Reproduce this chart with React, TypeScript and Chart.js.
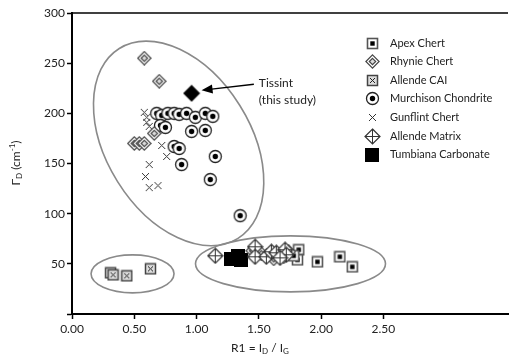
import React, { useEffect, useRef } from 'react';
import { Chart, registerables } from 'chart.js';
Chart.register(...registerables);

// ---- data (R1 = ID/IG, ΓD in cm-1) ----
const apexChert = [
  { x: 1.82, y: 64 }, { x: 1.81, y: 54 }, { x: 1.97, y: 52 },
  { x: 2.15, y: 57 }, { x: 2.25, y: 47 }, { x: 1.78, y: 58 },
];
const rhynieChert = [
  { x: 0.58, y: 255 }, { x: 0.70, y: 232 }, { x: 0.50, y: 170 }, { x: 0.54, y: 170 },
  { x: 0.58, y: 170 }, { x: 0.66, y: 180 }, { x: 1.45, y: 63 }, { x: 1.52, y: 60 },
  { x: 1.62, y: 55 }, { x: 1.70, y: 57 }, { x: 1.74, y: 62 },
];
const allendeCAI = [
  { x: 0.31, y: 41 }, { x: 0.33, y: 39 }, { x: 0.44, y: 38 }, { x: 0.63, y: 45 },
];
const murchison = [
  { x: 0.68, y: 200 }, { x: 0.72, y: 198 }, { x: 0.77, y: 200 }, { x: 0.82, y: 200 },
  { x: 0.86, y: 199 }, { x: 0.92, y: 200 }, { x: 0.99, y: 196 }, { x: 1.07, y: 200 },
  { x: 1.13, y: 197 }, { x: 0.71, y: 188 }, { x: 0.75, y: 186 }, { x: 0.96, y: 182 },
  { x: 1.07, y: 183 }, { x: 0.82, y: 167 }, { x: 0.86, y: 165 }, { x: 0.88, y: 149 },
  { x: 1.15, y: 157 }, { x: 1.11, y: 134 }, { x: 1.35, y: 98 },
];
const gunflint = [
  { x: 0.58, y: 201 }, { x: 0.60, y: 196 }, { x: 0.60, y: 191 }, { x: 0.62, y: 187 },
  { x: 0.72, y: 168 }, { x: 0.76, y: 157 }, { x: 0.62, y: 149 }, { x: 0.59, y: 137 },
  { x: 0.62, y: 126 }, { x: 0.69, y: 128 },
];
const allendeMatrix = [
  { x: 1.15, y: 58 }, { x: 1.47, y: 67 }, { x: 1.47, y: 57 }, { x: 1.56, y: 57 },
  { x: 1.60, y: 62 }, { x: 1.64, y: 61 }, { x: 1.71, y: 64 }, { x: 1.72, y: 59 },
  { x: 1.67, y: 56 },
];
const tumbiana = [
  { x: 1.28, y: 55 }, { x: 1.33, y: 58 }, { x: 1.36, y: 54 },
];
const tissint = [{ x: 0.96, y: 220 }];

const seriesLabels = [
  'Apex Chert', 'Rhynie Chert', 'Allende CAI', 'Murchison Chondrite',
  'Gunflint Chert', 'Allende Matrix', 'Tumbiana Carbonate',
];
const xTickMax = 2.5;

// group ellipses: centre in data units, semi-axes in px, angle in degrees
const groupEllipses = [
  { cx: 0.856, cy: 170, a: 112, b: 72, angle: 58 },
  { cx: 0.486, cy: 40, a: 41.5, b: 19, angle: 0 },
  { cx: 1.754, cy: 50, a: 95, b: 28, angle: 0 },
];
const annotation = { tipX: 1.04, tipY: 223, tailX: 1.46, tailY: 229, textX: 1.50, textY: 230 };

const FONT = 'Lato, "Open Sans", sans-serif';

function mk(w: number, draw: (g: CanvasRenderingContext2D, c: number) => void) {
  const cv = document.createElement('canvas');
  cv.width = w; cv.height = w;
  const g = cv.getContext('2d')!;
  draw(g, w / 2);
  return cv;
}
function diamond(g: CanvasRenderingContext2D, c: number, h: number) {
  g.beginPath();
  g.moveTo(c, c - h); g.lineTo(c + h, c); g.lineTo(c, c + h); g.lineTo(c - h, c); g.closePath();
}

function makeMarkers() {
  const apex = mk(13, (g, c) => {
    g.fillStyle = '#fff'; g.fillRect(1.5, 1.5, 10, 10);
    g.strokeStyle = '#555'; g.lineWidth = 1.6; g.strokeRect(1.5, 1.5, 10, 10);
    g.fillStyle = '#000'; g.fillRect(c - 2.2, c - 2.2, 4.4, 4.4);
  });
  const rhynie = mk(15, (g, c) => {
    diamond(g, c, 6.6); g.fillStyle = '#fff'; g.fill();
    g.strokeStyle = '#444'; g.lineWidth = 1.2; g.stroke();
    diamond(g, c, 3.2); g.fillStyle = '#ddd'; g.fill(); g.stroke();
  });
  const cai = mk(13, (g, c) => {
    g.fillStyle = '#ddd'; g.fillRect(1.5, 1.5, 10, 10);
    g.strokeStyle = '#444'; g.lineWidth = 1.5; g.strokeRect(1.5, 1.5, 10, 10);
    g.strokeStyle = '#222'; g.lineWidth = 1; g.beginPath();
    g.moveTo(4, 4); g.lineTo(9, 9); g.moveTo(9, 4); g.lineTo(4, 9); g.stroke();
  });
  const murch = mk(15, (g, c) => {
    g.beginPath(); g.arc(c, c, 6, 0, Math.PI * 2); g.fillStyle = '#fff'; g.fill();
    g.strokeStyle = '#222'; g.lineWidth = 1.3; g.stroke();
    g.beginPath(); g.arc(c, c, 2.7, 0, Math.PI * 2); g.fillStyle = '#000'; g.fill();
  });
  const gun = mk(9, (g) => {
    g.strokeStyle = '#333'; g.lineWidth = 1; g.beginPath();
    g.moveTo(1, 1); g.lineTo(8, 8); g.moveTo(8, 1); g.lineTo(1, 8); g.stroke();
  });
  const matrix = mk(17, (g, c) => {
    diamond(g, c, 7.5); g.fillStyle = '#fff'; g.fill();
    g.strokeStyle = '#333'; g.lineWidth = 1.2; g.stroke();
    g.beginPath(); g.moveTo(c - 7.5, c); g.lineTo(c + 7.5, c); g.moveTo(c, c - 7.5); g.lineTo(c, c + 7.5);
    g.lineWidth = 1; g.stroke();
  });
  const tumb = mk(14, (g) => { g.fillStyle = '#000'; g.fillRect(0, 0, 14, 14); });
  const tiss = mk(18, (g, c) => { diamond(g, c, 8.5); g.fillStyle = '#000'; g.fill(); });
  return { apex, rhynie, cai, murch, gun, matrix, tumb, tiss };
}

function drawRich(ctx: CanvasRenderingContext2D, parts: { t: string; k?: 'sub' | 'sup' }[], cx: number, cy: number, size: number) {
  const base = `${size}px ${FONT}`;
  const small = `${Math.round(size * 0.65)}px ${FONT}`;
  let total = 0;
  const widths = parts.map(p => { ctx.font = p.k ? small : base; const w = ctx.measureText(p.t).width; total += w; return w; });
  let x = cx - total / 2;
  ctx.textBaseline = 'middle';
  ctx.textAlign = 'left';
  parts.forEach((p, i) => {
    ctx.font = p.k ? small : base;
    const dy = p.k === 'sub' ? size * 0.3 : p.k === 'sup' ? -size * 0.3 : 0;
    ctx.fillText(p.t, x, cy + dy);
    x += widths[i];
  });
}

const decorPlugin = (markers: any[]) => ({
  id: 'decor',
  beforeDatasetsDraw(chart: any) {
    const { ctx, scales } = chart;
    ctx.save();
    ctx.strokeStyle = '#8a8a8a';
    ctx.lineWidth = 1.6;
    groupEllipses.forEach(e => {
      ctx.beginPath();
      ctx.ellipse(scales.x.getPixelForValue(e.cx), scales.y.getPixelForValue(e.cy), e.a, e.b, (e.angle * Math.PI) / 180, 0, Math.PI * 2);
      ctx.stroke();
    });
    ctx.restore();
  },
  afterDraw(chart: any) {
    const { ctx, scales, chartArea } = chart;
    ctx.save();
    // top border
    ctx.strokeStyle = '#000'; ctx.lineWidth = 1.5;
    ctx.beginPath(); ctx.moveTo(chartArea.left, chartArea.top); ctx.lineTo(chartArea.right, chartArea.top); ctx.stroke();
    ctx.fillStyle = '#222';
    // x title
    drawRich(ctx, [{ t: 'R1 = I' }, { t: 'D', k: 'sub' }, { t: ' / I' }, { t: 'G', k: 'sub' }], 260, 348, 12);
    // y title
    ctx.save();
    ctx.translate(16, 163); ctx.rotate(-Math.PI / 2);
    drawRich(ctx, [{ t: 'Γ' }, { t: 'D', k: 'sub' }, { t: ' (cm' }, { t: '-1', k: 'sup' }, { t: ')' }], 0, 0, 12);
    ctx.restore();
    // legend
    const lx = 372, ly0 = 43, step = 18.6;
    ctx.font = `11px ${FONT}`; ctx.textAlign = 'left'; ctx.textBaseline = 'middle'; ctx.fillStyle = '#222';
    seriesLabels.forEach((lab, i) => {
      const m = markers[i];
      const y = ly0 + i * step;
      ctx.drawImage(m, Math.round(lx - m.width / 2), Math.round(y - m.height / 2));
      ctx.fillText(lab, 390, y);
    });
    // annotation arrow
    const tx = scales.x.getPixelForValue(annotation.tipX), ty = scales.y.getPixelForValue(annotation.tipY);
    const sx = scales.x.getPixelForValue(annotation.tailX), sy = scales.y.getPixelForValue(annotation.tailY);
    const ang = Math.atan2(ty - sy, tx - sx);
    ctx.strokeStyle = '#000'; ctx.lineWidth = 1.3;
    ctx.beginPath(); ctx.moveTo(sx, sy); ctx.lineTo(tx - 8 * Math.cos(ang), ty - 8 * Math.sin(ang)); ctx.stroke();
    ctx.beginPath();
    ctx.moveTo(tx, ty);
    ctx.lineTo(tx - 11 * Math.cos(ang) + 4.5 * Math.sin(ang), ty - 11 * Math.sin(ang) - 4.5 * Math.cos(ang));
    ctx.lineTo(tx - 11 * Math.cos(ang) - 4.5 * Math.sin(ang), ty - 11 * Math.sin(ang) + 4.5 * Math.cos(ang));
    ctx.closePath(); ctx.fillStyle = '#000'; ctx.fill();
    const px = scales.x.getPixelForValue(annotation.textX), py = scales.y.getPixelForValue(annotation.textY);
    ctx.font = `12px ${FONT}`; ctx.fillStyle = '#222'; ctx.textBaseline = 'middle';
    ctx.fillText('Tissint', px, py);
    ctx.fillText('(this study)', px, py + 17);
    ctx.restore();
  },
});

export default function App() {
  const ref = useRef<HTMLCanvasElement>(null);
  useEffect(() => {
    const m = makeMarkers();
    const legendMarkers = [m.apex, m.rhynie, m.cai, m.murch, m.gun, m.matrix, m.tumb];
    const mkDs = (label: string, data: any[], style: any, order: number) => ({
      label, data, pointStyle: style, pointRadius: 6, showLine: false, order,
    });
    const chart = new Chart(ref.current!, {
      type: 'scatter',
      data: {
        datasets: [
          mkDs('Tissint', tissint, m.tiss, 0),
          mkDs(seriesLabels[5], allendeMatrix, m.matrix, 1),
          mkDs(seriesLabels[1], rhynieChert, m.rhynie, 2),
          mkDs(seriesLabels[0], apexChert, m.apex, 3),
          mkDs(seriesLabels[6], tumbiana, m.tumb, 4),
          mkDs(seriesLabels[2], allendeCAI, m.cai, 5),
          mkDs(seriesLabels[3], murchison, m.murch, 6),
          mkDs(seriesLabels[4], gunflint, m.gun, 7),
        ] as any,
      },
      options: {
        animation: false,
        responsive: false,
        layout: { padding: { top: 13, right: 0, left: 0, bottom: 0 } },
        plugins: { legend: { display: false }, tooltip: { enabled: false } },
        scales: {
          x: {
            type: 'linear', min: 0, max: 3.5,
            afterFit: (s: any) => { s.height = 48; },
            ticks: {
              stepSize: 0.5, color: '#222', padding: 3,
              font: { size: 12, family: FONT },
              callback: (v: any) => (Number(v) <= xTickMax + 1e-9 ? Number(v).toFixed(2) : ''),
            },
            grid: {
              drawOnChartArea: false, tickLength: 5, tickWidth: 1.5,
              tickColor: (c: any) => (c.tick && c.tick.value > xTickMax + 1e-9 ? 'rgba(0,0,0,0)' : '#000'),
            },
            border: { display: true, color: '#000', width: 2 },
          },
          y: {
            min: 0, max: 300,
            afterFit: (s: any) => { s.width = 72; },
            ticks: {
              stepSize: 50, color: '#222', padding: 2,
              font: { size: 12, family: FONT },
              callback: (v: any) => (Number(v) === 0 ? '' : String(v)),
            },
            grid: { drawOnChartArea: false, tickLength: 5, tickWidth: 1.5, tickColor: '#000' },
            border: { display: true, color: '#000', width: 2 },
          },
        },
      } as any,
      plugins: [decorPlugin(legendMarkers)],
    });
    return () => chart.destroy();
  }, []);
  return (
    <div style={{ position: 'absolute', left: 0, top: 0, width: 515, height: 362, background: '#fff' }}>
      <canvas ref={ref} width={515} height={362} />
    </div>
  );
}
